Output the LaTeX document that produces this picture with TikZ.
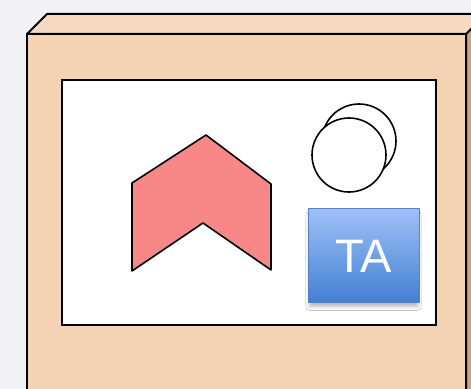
\documentclass[tikz,border=0pt]{standalone}
\usepackage{fontspec}
\setsansfont{Liberation Sans}
\usepackage{xcolor}
\usetikzlibrary{shadows.blur}

\definecolor{bggray}{RGB}{242,242,244}
\definecolor{boxfront}{RGB}{244,210,180}
\definecolor{boxtop}{RGB}{246,217,192}
\definecolor{boxside}{RGB}{196,166,138}
\definecolor{chevred}{RGB}{248,135,135}
\definecolor{tatop}{RGB}{158,192,246}
\definecolor{tabot}{RGB}{66,128,210}
\definecolor{taedge}{RGB}{86,130,196}

\begin{document}
\begin{tikzpicture}[
  x=0.5pt,y=-0.5pt,
  face/.style={draw=black,line width=1pt,line join=round},
  frame/.style={draw=black,fill=white,line width=1pt},
  chev/.style={draw=black,fill=chevred,line width=0.8pt,line join=round},
  coin/.style={circle,draw=black,fill=white,line width=0.8pt,minimum size=37pt,inner sep=0pt},
  tabox/.style={draw=taedge,line width=0.5pt,top color=tatop,bottom color=tabot,
    minimum width=55.5pt,minimum height=47pt,inner sep=0pt,
    text=white,font=\sffamily\fontsize{23.5}{23.5}\selectfont,
    blur shadow={shadow xshift=0pt,shadow yshift=-2.5pt,shadow scale=0.97,
      shadow blur radius=2pt,shadow blur extra rounding=0pt,shadow opacity=30}}
]
\fill[bggray] (0,0) rectangle (471,389);
\useasboundingbox (0,0) rectangle (471,389);
\clip (0,0) rectangle (471,389);

% box
\path[face,fill=boxside] (466,34) -- (486,14) -- (486,400) -- (466,400) -- cycle;
\path[face,fill=boxtop] (27,34) -- (47,14) -- (486,14) -- (466,34) -- cycle;
\path[face,fill=boxfront] (27,34) rectangle (466,400);

% screen
\path[frame] (62,80) rectangle (436,325);

\path[chev] (132,183) -- (206,135) -- (271,184) -- (271,270) -- (203,223) -- (132,271) -- cycle;

\node[coin] (coinback) at (359,141) {};
\node[coin] (coinfront) at (349,155) {};

\node[tabox] (ta) at (363.5,256) {TA};
\end{tikzpicture}
\end{document}
